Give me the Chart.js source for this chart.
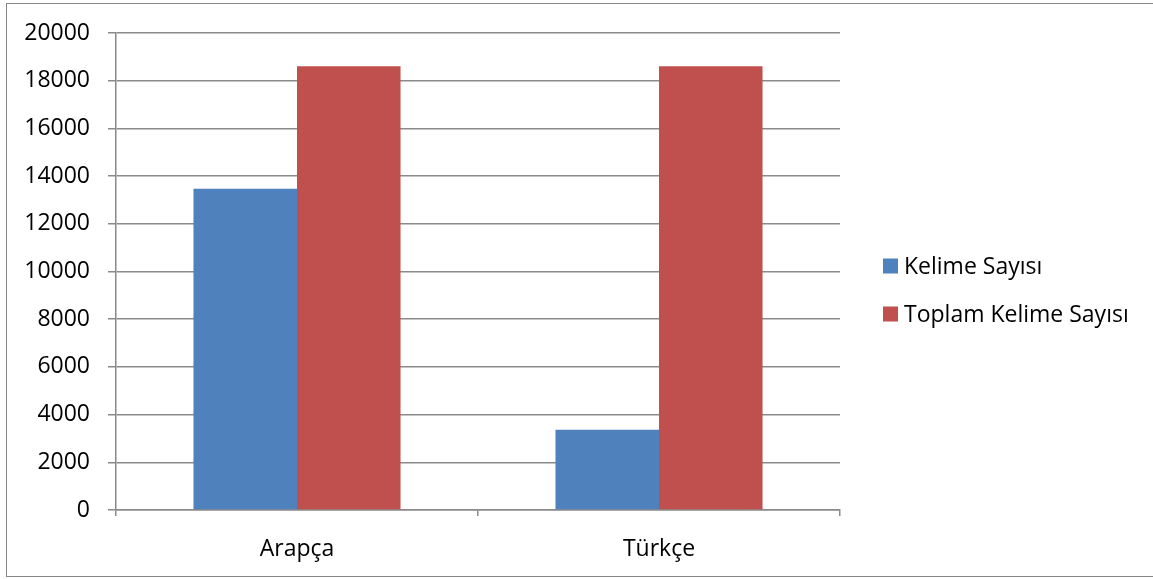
<!DOCTYPE html>
<html>
<head>
<meta charset="utf-8">
<script src="https://cdn.jsdelivr.net/npm/chart.js@4"></script>
<style>
  html, body { margin: 0; padding: 0; background: #fff; width: 1153px; height: 579px; overflow: hidden; }
  #frame { position: absolute; left: 6px; top: 3px; width: 1170px; height: 574px; border: 1px solid #868686; box-sizing: border-box; }
  #wrap { position: absolute; left: 0; top: 0; width: 1153px; height: 579px; }
</style>
</head>
<body>
<div id="frame"></div>
<div id="wrap"><canvas id="c"></canvas></div>
<script>
const categories = ["Arapça", "Türkçe"];
const seriesNames = ["Kelime Sayısı", "Toplam Kelime Sayısı"];
const kelimeSayisi = [13470, 3370];
const toplamKelimeSayisi = [18610, 18610];
const yTicks = [0, 2000, 4000, 6000, 8000, 10000, 12000, 14000, 16000, 18000, 20000];

const FONT = "'Open Sans', sans-serif";
const FS = 23;

const sideLegend = {
  id: 'sideLegend',
  afterDraw(chart) {
    const ctx = chart.ctx;
    const a = chart.chartArea;
    ctx.save();
    ctx.font = FS + "px " + FONT;
    ctx.textBaseline = 'middle';
    ctx.textAlign = 'left';
    chart.data.datasets.forEach((ds, i) => {
      const cy = a.top + 233 + i * 48;
      const x = a.right + 43;
      ctx.fillStyle = ds.backgroundColor;
      ctx.fillRect(x, cy - 7.5, 15, 15);
      ctx.fillStyle = '#000';
      ctx.fillText(ds.label, x + 21, cy + 1);
    });
    ctx.restore();
  }
};

new Chart(document.getElementById('c'), {
  type: 'bar',
  data: {
    labels: categories,
    datasets: [
      { label: seriesNames[0], data: kelimeSayisi, backgroundColor: '#4F81BD', borderWidth: 0 },
      { label: seriesNames[1], data: toplamKelimeSayisi, backgroundColor: '#C0504D', borderWidth: 0 }
    ]
  },
  options: {
    responsive: true,
    maintainAspectRatio: false,
    animation: false,
    devicePixelRatio: 1,
    layout: { padding: { top: 33, right: 313, bottom: 0, left: 0 } },
    datasets: { bar: { barPercentage: 1, categoryPercentage: 0.572 } },
    plugins: { legend: { display: false }, tooltip: { enabled: false } },
    scales: {
      x: {
        afterFit(s) { s.height = 69; },
        grid: { display: true, drawOnChartArea: false, offset: true, tickLength: 6, color: '#8a8a8a', lineWidth: 1.5 },
        border: { display: true, color: '#8a8a8a', width: 1.5 },
        ticks: { color: '#000', font: { family: FONT, size: FS }, padding: 20 }
      },
      y: {
        min: 0, max: 20000,
        afterFit(s) { s.width = 116; },
        afterBuildTicks(s) { s.ticks = yTicks.map(v => ({ value: v })); },
        grid: { color: '#8a8a8a', lineWidth: 1.5, tickLength: 8 },
        border: { display: true, color: '#8a8a8a', width: 1.5 },
        ticks: { color: '#000', font: { family: FONT, size: FS }, padding: 18, callback: (v) => String(v) }
      }
    }
  },
  plugins: [sideLegend]
});
</script>
</body>
</html>
